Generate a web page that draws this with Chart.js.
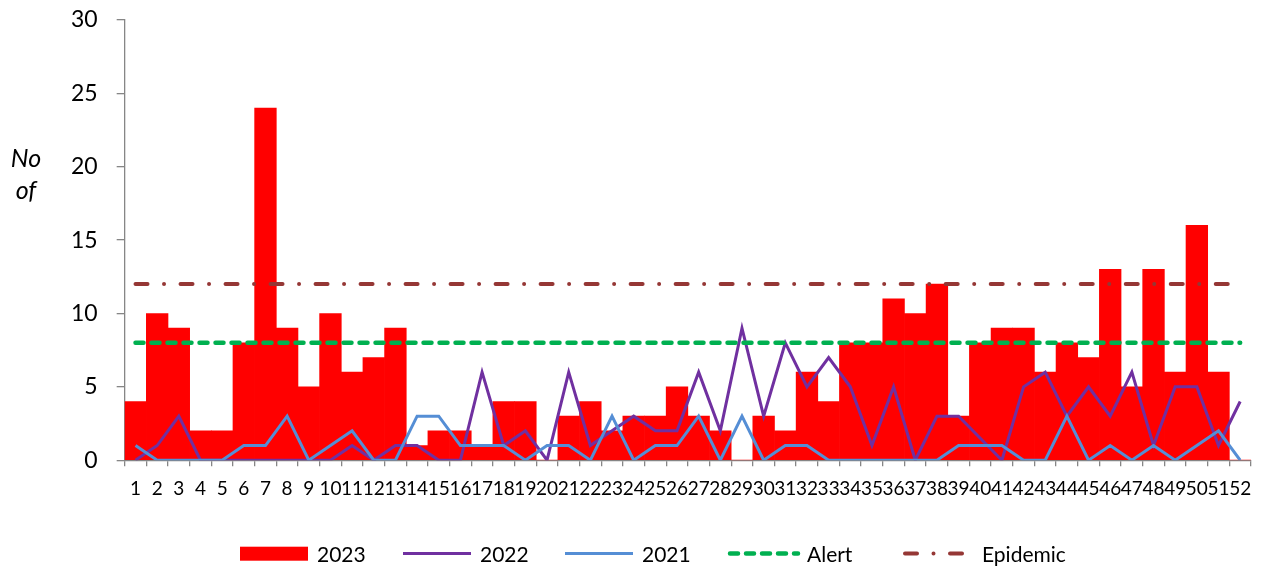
<!DOCTYPE html>
<html>
<head>
<meta charset="utf-8">
<script src="https://cdn.jsdelivr.net/npm/chart.js@4"></script>
<style>
html,body{margin:0;padding:0;background:#fff;}
#wrap{width:1269px;height:568px;position:relative;}
</style>
</head>
<body>
<div id="wrap"><canvas id="c"></canvas></div>
<script>
const weeks = ['1','2','3','4','5','6','7','8','9','10','11','12','13','14','15','16','17','18','19','20','21','22','23','24','25','26','27','28','29','30','31','32','33','34','35','36','37','38','39','40','41','42','43','44','45','46','47','48','49','50','51','52'];
const cases2023 = [4,10,9,2,2,8,24,9,5,10,6,7,9,1,2,2,1,4,4,0,3,4,2,3,3,5,3,2,0,3,2,6,4,8,8,11,10,12,3,8,9,9,6,8,7,13,5,13,6,16,6,0];
const cases2022 = [0,1,3,0,0,0,0,0,0,0,1,0,1,1,0,0,6,1,2,0,6,1,2,3,2,2,6,2,9,3,8,5,7,5,1,5,0,3,3,1.5,0,5,6,3,5,3,6,1,5,5,1,4];
const cases2021 = [1,0,0,0,0,1,1,3,0,1,2,0,0,3,3,1,1,1,0,1,1,0,3,0,1,1,3,0,3,0,1,1,0,0,0,0,0,0,1,1,1,0,0,3,0,1,0,1,0,1,2,0];
const alertLine = [8,8,8,8,8,8,8,8,8,8,8,8,8,8,8,8,8,8,8,8,8,8,8,8,8,8,8,8,8,8,8,8,8,8,8,8,8,8,8,8,8,8,8,8,8,8,8,8,8,8,8,8];
const epidemicLine = [12,12,12,12,12,12,12,12,12,12,12,12,12,12,12,12,12,12,12,12,12,12,12,12,12,12,12,12,12,12,12,12,12,12,12,12,12,12,12,12,12,12,12,12,12,12,12,12,12,12,12,12];
const seriesNames = ['2023','2022','2021','Alert','Epidemic'];
const yAxisTitle = ['No','of'];

const C_RED = '#FF0000', C_PURPLE = '#7030A0', C_BLUE = '#558ED5', C_GREEN = '#00B050', C_BROWN = '#953735';
const ALERT_DASH = [8, 8];
const EPI_DASH = [12, 16.5, 0.01, 16.5];

const FONT = 'Lato, "Open Sans", "Liberation Sans", sans-serif';
Chart.defaults.font.family = FONT;

const titlePlugin = {
  id: 'yTitle',
  afterDraw(chart) {
    const ctx = chart.ctx;
    ctx.save();
    ctx.fillStyle = '#000';
    ctx.font = 'italic 25px ' + FONT;
    ctx.textAlign = 'center';
    ctx.textBaseline = 'alphabetic';
    ctx.fillText(yAxisTitle[0], 26, 167);
    ctx.fillText(yAxisTitle[1], 26, 199);
    ctx.restore();
  }
};

const legendPlugin = {
  id: 'customLegend',
  afterDraw(chart) {
    const ctx = chart.ctx;
    const starts = [240, 403, 565, 730, 905];
    const symW = 68, textOff = 77, cy = 553.5, base = 561.5;
    ctx.save();
    ctx.font = '21px ' + FONT;
    ctx.fillStyle = '#000';
    ctx.textBaseline = 'alphabetic';
    ctx.textAlign = 'left';
    seriesNames.forEach((name, i) => {
      const x0 = starts[i];
      ctx.save();
      if (i === 0) {
        ctx.fillStyle = C_RED;
        ctx.fillRect(x0, 546.7, symW, 14);
      } else {
        ctx.beginPath();
        ctx.moveTo(x0, cy);
        ctx.lineTo(x0 + symW, cy);
        if (i === 1) { ctx.strokeStyle = C_PURPLE; ctx.lineWidth = 3; }
        if (i === 2) { ctx.strokeStyle = C_BLUE; ctx.lineWidth = 3; }
        if (i === 3) { ctx.strokeStyle = C_GREEN; ctx.lineWidth = 4.5; ctx.setLineDash(ALERT_DASH); ctx.lineCap = 'round'; }
        if (i === 4) { ctx.strokeStyle = C_BROWN; ctx.lineWidth = 4; ctx.setLineDash(EPI_DASH); ctx.lineCap = 'round'; }
        ctx.stroke();
      }
      ctx.restore();
      ctx.fillText(name, x0 + textOff, base);
    });
    ctx.restore();
  }
};

new Chart(document.getElementById('c'), {
  type: 'bar',
  data: {
    labels: weeks,
    datasets: [
      { label: seriesNames[0], data: cases2023, backgroundColor: C_RED, borderWidth: 0, barPercentage: 1, categoryPercentage: 1, order: 10 },
      { type: 'line', label: seriesNames[1], data: cases2022, borderColor: C_PURPLE, borderWidth: 3, pointRadius: 0, tension: 0, fill: false, order: 5 },
      { type: 'line', label: seriesNames[2], data: cases2021, borderColor: C_BLUE, borderWidth: 3, pointRadius: 0, tension: 0, fill: false, order: 4 },
      { type: 'line', label: seriesNames[3], data: alertLine, borderColor: C_GREEN, borderWidth: 4.5, borderDash: ALERT_DASH, borderCapStyle: 'round', pointRadius: 0, fill: false, order: 3 },
      { type: 'line', label: seriesNames[4], data: epidemicLine, borderColor: C_BROWN, borderWidth: 4, borderDash: EPI_DASH, borderCapStyle: 'round', pointRadius: 0, fill: false, order: 2 }
    ]
  },
  options: {
    responsive: true,
    maintainAspectRatio: false,
    animation: false,
    devicePixelRatio: 1,
    layout: { padding: { left: 52, right: 18, top: 20, bottom: 57 } },
    plugins: { legend: { display: false }, tooltip: { enabled: false } },
    scales: {
      x: {
        type: 'category',
        offset: true,
        grid: { display: true, drawOnChartArea: false, drawTicks: true, tickLength: 6, color: '#868686', offset: true, lineWidth: 1.3 },
        border: { display: true, color: '#868686', width: 1.3 },
        ticks: { autoSkip: false, maxRotation: 0, minRotation: 0, color: '#000', font: { size: 19 }, padding: 11 }
      },
      y: {
        min: 0, max: 30,
        grid: { drawOnChartArea: false, drawTicks: true, tickLength: 8, color: '#868686', lineWidth: 1.3 },
        border: { display: true, color: '#868686', width: 1.3 },
        ticks: { stepSize: 5, color: '#000', font: { size: 23, lineHeight: 0.05 }, padding: 19 }
      }
    }
  },
  plugins: [titlePlugin, legendPlugin]
});
</script>
</body>
</html>
